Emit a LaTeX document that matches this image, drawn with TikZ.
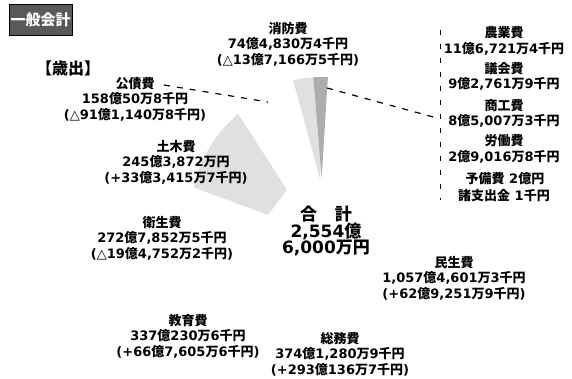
\documentclass[tikz,border=0pt]{standalone}
\usepackage{fontspec}
\setmainfont{DejaVu Sans}
\newfontfamily\jpfont{Noto Sans CJK JP}
\newcommand\JT[1]{{\jpfont #1}}
\usetikzlibrary{calc}
\begin{document}
\begin{tikzpicture}[x=1pt,y=-1pt,
  lbl/.style={align=center, inner sep=0pt, font=\bfseries\fontsize{13}{15.5}\selectfont},
  big/.style={align=center, inner sep=0pt, font=\bfseries\fontsize{17}{16}\selectfont},
  leader/.style={line width=1.2pt, dash pattern=on 6pt off 7pt},
  bracket/.style={line width=1pt, dash pattern=on 5pt off 9pt},
  lightslice/.style={fill=black!12},
  darkslice/.style={fill=black!32},
]
\useasboundingbox (0,0) rectangle (572,378);
\fill[white] (0,0) rectangle (572,378);

% donut centre
\coordinate (c) at (323,215);

% visible (faint) slices
\path[lightslice] ($(c)+(-130:132)$) arc[start angle=-130,end angle=-168,radius=132]
  -- ($(c)+(-180:55)$) -- ($(c)+(-145:44)$) -- cycle;
\path[lightslice] ($(c)+(-88:138)$) arc[start angle=-88,end angle=-102.5,radius=138]
  -- ($(c)+(-95:37)$) -- cycle;
\path[darkslice] ($(c)+(-88:138)$) arc[start angle=-88,end angle=-94,radius=138]
  -- ($(c)+(-92:37)$) -- cycle;

% title
\filldraw[fill=black!65, draw=black, line width=1pt] (9,4) rectangle (72,35);
\node[inner sep=0pt, text=white, font=\bfseries\fontsize{15}{15}\selectfont] (title) at (40.5,19.5) {\JT{一般会計}};
\node[inner sep=0pt, font=\bfseries\fontsize{16}{16}\selectfont] (saishutsu) at (68,68) {\JT{【歳出】}};

% labels
\node[lbl] (shobo) at (288,44) {\JT{消防費}\\74\JT{億}4,830\JT{万}4\JT{千円}\\(△13\JT{億}7,166\JT{万}5\JT{千円})};
\node[lbl] (kosai) at (135,99) {\JT{公債費}\\158\JT{億}50\JT{万}8\JT{千円}\\(△91\JT{億}1,140\JT{万}8\JT{千円})};
\node[lbl] (doboku) at (176,162) {\JT{土木費}\\245\JT{億}3,872\JT{万円}\\(+33\JT{億}3,415\JT{万}7\JT{千円})};
\node[lbl] (eisei) at (162,238) {\JT{衛生費}\\272\JT{億}7,852\JT{万}5\JT{千円}\\(△19\JT{億}4,752\JT{万}2\JT{千円})};
\node[lbl] (kyoiku) at (188,336) {\JT{教育費}\\337\JT{億}230\JT{万}6\JT{千円}\\(+66\JT{億}7,605\JT{万}6\JT{千円})};
\node[lbl] (somu) at (340,354) {\JT{総務費}\\374\JT{億}1,280\JT{万}9\JT{千円}\\(+293\JT{億}136\JT{万}7\JT{千円})};
\node[lbl] (minsei) at (454,278) {\JT{民生費}\\1,057\JT{億}4,601\JT{万}3\JT{千円}\\(+62\JT{億}9,251\JT{万}9\JT{千円})};
\node[big] (total) at (326,231) {\JT{合}\hspace{18pt}\JT{計}\\2,554\JT{億}\\6,000\JT{万円}};

% right column
\node[lbl] (nogyo) at (504,41) {\JT{農業費}\\11\JT{億}6,721\JT{万}4\JT{千円}};
\node[lbl] (gikai) at (504,76.5) {\JT{議会費}\\9\JT{億}2,761\JT{万}9\JT{千円}};
\node[lbl] (shoko) at (504,113.5) {\JT{商工費}\\8\JT{億}5,007\JT{万}3\JT{千円}};
\node[lbl] (rodo) at (504,149) {\JT{労働費}\\2\JT{億}9,016\JT{万}8\JT{千円}};
\node[lbl] (yobi) at (505,179) {\JT{予備費}\ 2\JT{億円}};
\node[lbl] (shishutsu) at (504,196) {\JT{諸支出金}\ 1\JT{千円}};

% leaders
\coordinate (kosaiA) at (164,85);
\coordinate (kosaiB) at (268,102);
\draw[leader] (kosaiA) -- (kosaiB);
\coordinate (smallA) at (327,88);
\coordinate (smallB) at (437,118);
\draw[leader] (smallA) -- (smallB);
\coordinate (brTop) at (440,30);
\coordinate (brBot) at (440,200);
\draw[bracket] (brTop) -- (brBot);
\end{tikzpicture}
\end{document}
